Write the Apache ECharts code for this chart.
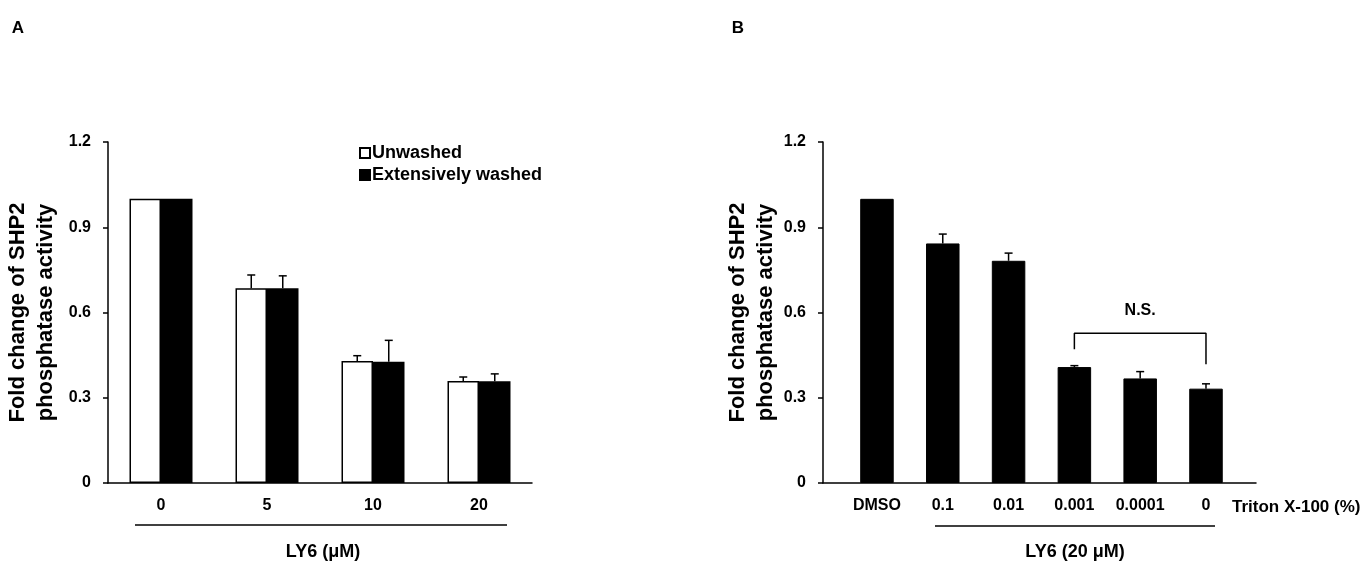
<!DOCTYPE html>
<html>
<head>
<meta charset="utf-8">
<title>SHP2 phosphatase activity</title>
<script src="https://cdn.jsdelivr.net/npm/echarts@6/dist/echarts.min.js"></script>
<style>
  html, body { margin: 0; padding: 0; background: #fff; }
  #main { width: 1370px; height: 565px; }
</style>
</head>
<body>
<div id="main"></div>
<script>
// ---- panel A data ----
var catsA = ['0', '5', '10', '20'];
var unwashed = [1.0, 0.685, 0.429, 0.359];
var unwashedErr = [0, 0.047, 0.019, 0.014];
var washed = [1.0, 0.685, 0.427, 0.358];
var washedErr = [0, 0.044, 0.075, 0.026];

// ---- panel B data ----
var catsB = ['DMSO', '0.1', '0.01', '0.001', '0.0001', '0'];
var posB = [1, 2, 3, 4, 5, 6];
var activityB = [1.0, 0.843, 0.782, 0.408, 0.368, 0.332];
var activityErrB = [0, 0.033, 0.027, 0.005, 0.024, 0.017];

// N.S. bracket between 0.001 and 0 groups
var nsX = [4, 6];
var nsY = [0.471, 0.527, 0.418];   // left foot, top, right foot
var nsLabelY = 0.606;

var FONT = '"Liberation Sans", Arial, sans-serif';
var barWA = 31.5, barWB = 33.5;

var chart = echarts.init(document.getElementById('main'));

function errItem(offset) {
    return function (params, api) {
        var e = api.value(2);
        if (!e) return null;
        var base = api.coord([api.value(0), api.value(1)]);
        var top = api.coord([api.value(0), api.value(1) + e]);
        var x = base[0] + offset;
        var st = { stroke: '#000', lineWidth: 1.5 };
        return {
            type: 'group',
            children: [
                { type: 'line', shape: { x1: x, y1: base[1], x2: x, y2: top[1] }, style: st },
                { type: 'line', shape: { x1: x - 4, y1: top[1], x2: x + 4, y2: top[1] }, style: st }
            ]
        };
    };
}

function zip3(a, b, c) {
    return a.map(function (v, i) { return [a[i], b[i], c[i]]; });
}

var yAxisBase = {
    type: 'value',
    min: 0,
    max: 1.2,
    interval: 0.3,
    nameLocation: 'middle',
    nameGap: 48,
    nameTextStyle: { fontFamily: FONT, fontWeight: 'bold', fontSize: 22, color: '#000', lineHeight: 28 },
    axisLine: { show: true, lineStyle: { color: '#000', width: 1.5 } },
    axisTick: { show: true, inside: false, length: 5, lineStyle: { color: '#000', width: 1.5 } },
    splitLine: { show: false },
    axisLabel: {
        margin: 17,
        fontFamily: FONT, fontWeight: 'bold', fontSize: 16, color: '#000',
        formatter: function (v) { return v === 0 ? '0' : v.toFixed(1); }
    }
};

var option = {
    animation: false,
    backgroundColor: '#fff',
    textStyle: { fontFamily: FONT },
    grid: [
        { left: 108, top: 142, width: 424, height: 341 },
        { left: 823, top: 142, width: 433, height: 341 }
    ],
    legend: {
        data: ['Unwashed', 'Extensively washed'],
        orient: 'vertical',
        left: 354,
        top: 139,
        itemWidth: 10,
        itemHeight: 10,
        itemGap: 4,
        icon: 'rect',
        textStyle: { fontFamily: FONT, fontWeight: 'bold', fontSize: 18, color: '#000', padding: [0, 0, 0, -3] }
    },
    xAxis: [
        {
            type: 'category',
            gridIndex: 0,
            data: catsA,
            axisLine: { lineStyle: { color: '#000', width: 1.5 } },
            axisTick: { show: false },
            axisLabel: { margin: 15, fontFamily: FONT, fontWeight: 'bold', fontSize: 16, color: '#000' }
        },
        {
            type: 'value',
            gridIndex: 1,
            min: 0.18,
            max: 6.76,
            splitLine: { show: false },
            axisTick: { show: false },
            axisLine: { show: true, lineStyle: { color: '#000', width: 1.5 } },
            axisLabel: {
                margin: 15,
                customValues: posB,
                fontFamily: FONT, fontWeight: 'bold', fontSize: 16, color: '#000',
                formatter: function (v) { return catsB[Math.round(v) - 1] || ''; }
            }
        }
    ],
    yAxis: [
        echarts.util.merge({ gridIndex: 0, name: 'Fold change of SHP2\nphosphatase activity' }, yAxisBase, true),
        echarts.util.merge({ gridIndex: 1, name: 'Fold change of SHP2\nphosphatase activity', nameGap: 38 }, yAxisBase, false)
    ],
    series: [
        {
            name: 'Unwashed',
            type: 'bar',
            xAxisIndex: 0, yAxisIndex: 0,
            barWidth: barWA,
            barGap: '0%',
            data: unwashed,
            itemStyle: { color: '#fff', borderColor: '#000', borderWidth: 1.5 }
        },
        {
            name: 'Extensively washed',
            type: 'bar',
            xAxisIndex: 0, yAxisIndex: 0,
            barWidth: barWA,
            barGap: '0%',
            data: washed,
            itemStyle: { color: '#000', borderColor: '#000', borderWidth: 1.5 }
        },
        {
            type: 'custom',
            xAxisIndex: 0, yAxisIndex: 0,
            z: 5,
            renderItem: errItem(-barWA / 2),
            data: zip3(catsA.map(function (c, i) { return i; }), unwashed, unwashedErr)
        },
        {
            type: 'custom',
            xAxisIndex: 0, yAxisIndex: 0,
            z: 5,
            renderItem: errItem(barWA / 2),
            data: zip3(catsA.map(function (c, i) { return i; }), washed, washedErr)
        },
        {
            name: 'LY6 20uM',
            type: 'bar',
            xAxisIndex: 1, yAxisIndex: 1,
            barWidth: barWB,
            data: posB.map(function (p, i) { return [p, activityB[i]]; }),
            itemStyle: { color: '#000', borderColor: '#000', borderWidth: 1 }
        },
        {
            type: 'custom',
            xAxisIndex: 1, yAxisIndex: 1,
            z: 5,
            renderItem: errItem(0),
            data: zip3(posB, activityB, activityErrB)
        },
        {
            type: 'line',
            xAxisIndex: 1, yAxisIndex: 1,
            symbol: 'none',
            silent: true,
            lineStyle: { color: '#000', width: 1.5 },
            data: [[nsX[0], nsY[0]], [nsX[0], nsY[1]], [nsX[1], nsY[1]], [nsX[1], nsY[2]]]
        },
        {
            type: 'scatter',
            xAxisIndex: 1, yAxisIndex: 1,
            symbolSize: 0,
            silent: true,
            itemStyle: { opacity: 1 },
            data: [[(nsX[0] + nsX[1]) / 2, nsLabelY]],
            label: {
                show: true, position: 'inside', formatter: 'N.S.',
                fontFamily: FONT, fontWeight: 'bold', fontSize: 16, color: '#000', opacity: 1
            }
        }
    ],
    graphic: [
        { type: 'text', x: 18, y: 28, style: { text: 'A', font: 'bold 17px ' + FONT, fill: '#000', align: 'center', verticalAlign: 'middle', textAlign: 'center', textVerticalAlign: 'middle' } },
        { type: 'text', x: 738, y: 28, style: { text: 'B', font: 'bold 17px ' + FONT, fill: '#000', align: 'center', verticalAlign: 'middle', textAlign: 'center', textVerticalAlign: 'middle' } },
        { type: 'line', shape: { x1: 135, y1: 525, x2: 507, y2: 525 }, style: { stroke: '#000', lineWidth: 1.5 } },
        { type: 'text', x: 323, y: 552, style: { text: 'LY6 (μM)', font: 'bold 18px ' + FONT, fill: '#000', align: 'center', verticalAlign: 'middle', textAlign: 'center', textVerticalAlign: 'middle' } },
        { type: 'line', shape: { x1: 935, y1: 526, x2: 1215, y2: 526 }, style: { stroke: '#000', lineWidth: 1.5 } },
        { type: 'text', x: 1075, y: 552, style: { text: 'LY6 (20 μM)', font: 'bold 18px ' + FONT, fill: '#000', align: 'center', verticalAlign: 'middle', textAlign: 'center', textVerticalAlign: 'middle' } },
        { type: 'text', x: 1232, y: 507, style: { text: 'Triton X-100 (%)', font: 'bold 17px ' + FONT, fill: '#000', align: 'left', verticalAlign: 'middle', textAlign: 'left', textVerticalAlign: 'middle' } }
    ]
};

chart.setOption(option);
</script>
</body>
</html>
